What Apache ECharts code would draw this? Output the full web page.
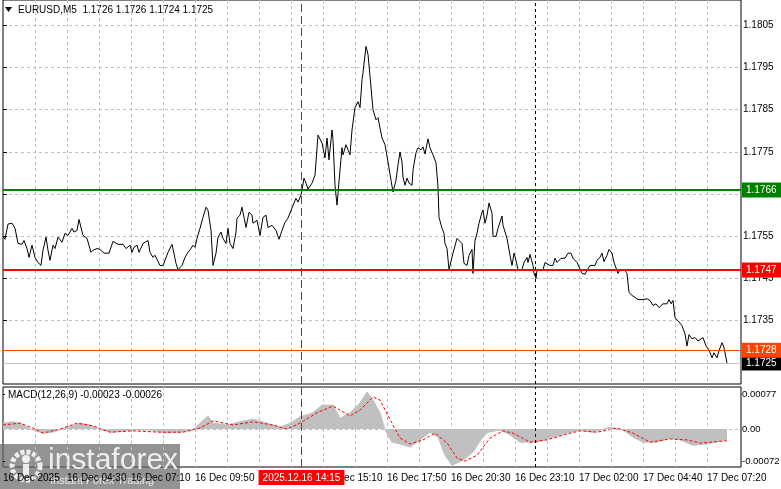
<!DOCTYPE html>
<html><head><meta charset="utf-8">
<script src="https://cdn.jsdelivr.net/npm/echarts@6/dist/echarts.min.js"></script>
<style>html,body{margin:0;padding:0;background:#fff}#c{width:781px;height:489px}</style>
</head><body><div id="c"></div>
<script>
// ---- data (x = bar index on the M5 chart, 0 = first visible bar) ----
const symbolTitle = 'EURUSD,M5  1.1726 1.1726 1.1724 1.1725';
const macdTitle = 'MACD(12,26,9) -0.00023 -0.00026';

const priceBars = [0,1,2.5,4.5,6,7.5,9.5,10.5,12,13,14.5,16,17.5,19,20,21.5,22.5,23.5,25,26,27.5,29.5,31,32.5,34.5,35.5,37,38,40,42,44,45,47,48.5,50.5,53,55,57.5,60,61.5,63.5,64.5,65.5,67,68,70,71,72.5,73.5,75,76,78.5,80,82.5,84.5,85.5,86.5,87.5,89.5,91,92.5,94,95,96,97,98.5,100,101.5,102.5,104,105,106.5,107.5,109,110,111.5,112.5,113.5,115,116.5,117,118.5,119.5,120.5,121.5,
123,124.5,125,127,128.5,130,131.5,132.5,134.5,136.5,138,139.5,141,142.5,144.5,145.5,146.5,147.5,149,149.5,150.5,151.5,152.5,154.5,156,157.5,159.5,161,162,163,164.5,165,166,167,168.5,169.5,170,171.5,172.5,173.5,174.5,176,177.5,178.5,179.5,180,181.5,182.5,183.5,185,186.5,187.5,189.5,191,192.5,194,195,196.5,197.5,198.5,199.5,200,201,202,203,204.5,205,206.5,207.5,209,210,211,212.5,213.5,215,216.5,217.5,218,219.5,220.5,221,
222,223,225,227,228,229.5,230.5,232,233,234.5,235,236,237,238,239.5,240,241,242,243,244.5,245,246.5,247.5,249.5,250,251,252,253.5,254.5,255.5,256.5,257.5,259.5,260.5,262,262.5,263.5,265,265.5,266.5,267,268.5,270,271,272,273.5,275,276,277,279,281,282.5,284,285,287,288,289.5,291,292,293.5,296,297,298.5,299.5,300.5,302,303,304.5,305.5,307,307.5,308.5,311,312,313,314.5,316,317.5,320,322,323.5,325,326.5,328,330,332,333,334,335,336,337.5,339.5,341,342,343,344.5,346,347.5,350,351.5,353,354.5,355.5,357,358,359.5,360.5,361.5,362];

const priceValues = [1.17550,1.17543,1.17579,1.17581,1.17569,1.17533,1.17531,1.17540,1.17521,1.17500,1.17529,1.17500,1.17488,1.17481,1.17517,1.17548,1.17517,1.17493,1.17529,1.17521,1.17548,1.17536,1.17557,1.17552,1.17569,1.17560,1.17564,1.17590,1.17552,1.17545,1.17512,1.17517,1.17521,1.17519,1.17510,1.17510,1.17538,1.17531,1.17531,1.17521,1.17529,1.17512,1.17524,1.17529,1.17512,1.17533,1.17529,1.17540,1.17512,1.17500,1.17505,1.17481,1.17481,1.17512,1.17531,1.17529,1.17486,1.17471,1.17481,1.17500,1.17512,1.17521,1.17529,1.17524,1.17545,1.17569,1.17595,1.17619,1.17612,1.17564,1.17481,1.17510,1.17548,1.17560,1.17545,1.17533,1.17569,1.17533,1.17521,1.17560,1.17593,1.17600,1.17619,1.17595,1.17571,
1.17607,1.17600,1.17581,1.17588,1.17552,1.17595,1.17600,1.17571,1.17576,1.17564,1.17543,1.17564,1.17583,1.17593,1.17617,1.17629,1.17640,1.17631,1.17648,1.17660,1.17688,1.17676,1.17662,1.17676,1.17695,1.17790,1.17771,1.17736,1.17783,1.17731,1.17802,1.17779,1.17671,1.17624,1.17707,1.17760,1.17743,1.17767,1.17755,1.17743,1.17802,1.17855,1.17869,1.17855,1.17921,1.17938,1.18000,1.17981,1.17929,1.17850,1.17826,1.17831,1.17783,1.17767,1.17726,1.17683,1.17655,1.17683,1.17719,1.17750,1.17726,1.17690,1.17671,1.17688,1.17676,1.17671,1.17707,1.17748,1.17760,1.17755,1.17762,1.17745,1.17781,1.17760,1.17743,1.17724,1.17667,1.17595,1.17569,1.17557,1.17533,
1.17521,1.17471,1.17510,1.17545,1.17548,1.17533,1.17486,1.17481,1.17505,1.17519,1.17462,1.17540,1.17557,1.17581,1.17607,1.17612,1.17581,1.17600,1.17629,1.17605,1.17550,1.17550,1.17569,1.17598,1.17576,1.17576,1.17545,1.17505,1.17481,1.17510,1.17493,1.17471,1.17471,1.17488,1.17500,1.17488,1.17507,1.17481,1.17462,1.17450,1.17469,1.17469,1.17471,1.17488,1.17486,1.17481,1.17481,1.17498,1.17488,1.17498,1.17498,1.17510,1.17510,1.17498,1.17488,1.17488,1.17462,1.17460,1.17469,1.17481,1.17481,1.17493,1.17500,1.17510,1.17490,1.17505,1.17519,1.17510,1.17488,1.17469,1.17462,1.17471,1.17469,1.17462,1.17417,1.17410,1.17405,1.17400,1.17400,1.17402,1.17398,1.17386,1.17390,1.17381,1.17390,1.17390,1.17400,1.17390,1.17398,1.17357,1.17350,1.17338,1.17319,1.17290,1.17317,1.17307,1.17310,1.17302,1.17310,1.17290,1.17281,1.17262,1.17274,1.17262,1.17279,1.17298,1.17286,1.17262,1.17250];

const macdBars = [0,5,8.5,12,15,20,25,32,38.5,43.5,48.5,55,65,73.5,82,88.5,95,98.5,102.5,105,112,118.5,125,132,138.5,143.5,148.5,155,159.5,165,168.5,173.5,178.5,182,185,188.5,191,194.5,198.5,203.5,208.5,213.5,217.5,221,224.5,230,235,239.5,242.5,248.5,253.5,258.5,267,275,283.5,288.5,295,303.5,310,315,320,327,333.5,338.5,345,352,362];
const macdValues = [0.00013,0.00016,0.00013,0.00004,-0.00002,-0.00009,-0.00007,0.00004,0.00013,0.00009,-0.00002,-0.00007,-0.00002,-0.00002,-0.00009,-0.00007,-0.00002,0.00013,0.00029,0.00013,0.00009,0.00016,0.00022,0.00013,0.00004,0.00013,0.00027,0.00036,0.00053,0.00053,0.00024,0.00036,0.00058,0.00082,0.00064,0.00036,-0.00002,-0.00029,-0.00033,-0.00040,-0.00024,-0.00007,-0.00018,-0.00058,-0.00080,-0.00069,-0.00051,-0.00020,-0.00007,-0.00002,-0.00013,-0.00029,-0.00029,-0.00018,-0.00007,-0.00002,-0.00007,0.00004,-0.00002,-0.00018,-0.00029,-0.00029,-0.00020,-0.00024,-0.00036,-0.00033,-0.00023];

const signalBars = [0,8.5,15,20,28.5,37,45,53.5,65,78.5,90,98.5,105,115,125,135,142,148.5,157,165,173.5,178.5,185,188.5,194.5,198.5,203.5,210,216,222,227,231,237,243.5,250,255,263.5,272,282,288.5,297,307,315,323.5,333.5,342,348.5,362];
const signalValues = [0.00009,0.00013,0.00002,-0.00009,0.00000,0.00013,0.00007,-0.00007,-0.00004,-0.00007,-0.00007,0.00002,0.00018,0.00009,0.00016,0.00009,0.00000,0.00013,0.00036,0.00051,0.00029,0.00042,0.00071,0.00064,0.00013,-0.00020,-0.00033,-0.00024,-0.00009,-0.00031,-0.00064,-0.00071,-0.00058,-0.00020,-0.00004,-0.00009,-0.00029,-0.00024,-0.00011,-0.00004,-0.00007,0.00002,-0.00009,-0.00029,-0.00022,-0.00024,-0.00031,-0.00026];

const timeTickBars = [0,32,64,96,128,160,192,224,256,288,320,352];
const timeTickLabels = ['16 Dec 2025','16 Dec 04:30','16 Dec 07:10','16 Dec 09:50','16 Dec 12:30','16 Dec 15:10','16 Dec 17:50','16 Dec 20:30','16 Dec 23:10','17 Dec 02:00','17 Dec 04:40','17 Dec 07:20'];
const priceTicks = [1.1725,1.1735,1.1745,1.1755,1.1765,1.1775,1.1785,1.1795,1.1805];
const macdTicks = [0.00077,0,-0.00072];

const levelGreen = 1.1766, levelRed = 1.1747, levelOrange = 1.1728, levelBid = 1.1725;
const markerBar = 149.25, markerLabel = '2025.12.16 14:15';
const daySeparatorBar = 266.25;

// ---- chart ----
const FONT = '"Liberation Sans",Arial,sans-serif';
const gridBars = [];
for (let b = 16; b <= 352; b += 16) gridBars.push(b);
const dash = {color:'#c0c0c0', type:[3,3], width:1};

function tag(value, bg, lineColor, width) {
  return {
    yAxis: value,
    lineStyle: {color: lineColor, width: width, type: 'solid'},
    label: {show: true, position: 'end', formatter: value.toFixed(4), color: '#fff',
            backgroundColor: bg, padding: [3,5,2,4], distance: 1,
            fontSize: 10, fontFamily: FONT}
  };
}
function vline(xAxis, yAxis, bar, color, dashArr, label) {
  return {type: 'line', xAxisIndex: xAxis, yAxisIndex: yAxis, data: [], color: color, silent: true, z: 4,
    markLine: {symbol: ['none','none'], silent: true, animation: false, precision: 6,
      lineStyle: {color: color, type: dashArr, width: 1},
      label: label ? {show: true, position: 'start', formatter: label, color: '#fff',
                      backgroundColor: color, padding: [3,4,2,4], distance: 3,
                      fontSize: 10, fontFamily: FONT} : {show: false},
      data: [{xAxis: bar}]}};
}

const chart = echarts.init(document.getElementById('c'), null, {renderer: 'canvas'});
chart.setOption({
  animation: false,
  backgroundColor: '#fff',
  grid: [
    {left: 3, top: 0, width: 738, height: 384, show: true, borderColor: '#000', borderWidth: 1, outerBoundsMode: 'none', containLabel: false},
    {left: 3, top: 387, width: 738, height: 80, show: true, borderColor: '#000', borderWidth: 1, outerBoundsMode: 'none', containLabel: false}
  ],
  xAxis: [
    {gridIndex: 0, type: 'value', min: 0, max: 369,
     axisLine: {show: false}, axisTick: {show: false, customValues: gridBars},
     axisLabel: {show: false}, splitLine: {show: true, lineStyle: dash}},
    {gridIndex: 1, type: 'value', min: 0, max: 369,
     axisLine: {show: false}, axisTick: {show: false, customValues: gridBars},
     axisLabel: {show: true, customValues: timeTickBars, align: 'left', margin: 6,
                 color: '#000', fontSize: 10, fontFamily: FONT,
                 formatter: v => timeTickLabels[timeTickBars.indexOf(Math.round(v))] || ''},
     splitLine: {show: true, lineStyle: dash}}
  ],
  yAxis: [
    {gridIndex: 0, type: 'value', position: 'right', min: 1.1720, max: 1.1811,
     axisLine: {show: false},
     axisTick: {show: true, customValues: priceTicks, length: 4, lineStyle: {color: '#000'}},
     axisLabel: {customValues: priceTicks, formatter: v => v.toFixed(4), margin: 2,
                 color: '#000', fontSize: 10, fontFamily: FONT},
     splitLine: {show: true, lineStyle: dash}},
    {gridIndex: 1, type: 'value', position: 'right', min: -0.00084, max: 0.00093,
     axisLine: {show: false},
     axisTick: {show: true, customValues: macdTicks, length: 2, lineStyle: {color: '#000'}},
     axisLabel: {customValues: macdTicks, formatter: v => (Math.abs(v) < 1e-9 ? '0.00' : v.toFixed(5)),
                 margin: 1, color: '#000', fontSize: 9.5, fontFamily: FONT},
     splitLine: {show: false}}
  ],
  series: [
    {type: 'line', xAxisIndex: 1, yAxisIndex: 1, showSymbol: false, silent: true,
     data: macdBars.map((b, i) => [b, macdValues[i]]),
     lineStyle: {color: '#c0c0c0', width: 1}, areaStyle: {color: '#c0c0c0', opacity: 1},
     markLine: {symbol: ['none','none'], silent: true, animation: false, precision: 6,
       data: [{yAxis: 0, lineStyle: {color: '#c0c0c0', type: [3,3], width: 1}, label: {show: false}}]}},
    {type: 'line', xAxisIndex: 1, yAxisIndex: 1, showSymbol: false, silent: true,
     data: signalBars.map((b, i) => [b, signalValues[i]]),
     lineStyle: {color: '#ff0000', width: 1, type: [3,2]}},
    {type: 'line', xAxisIndex: 0, yAxisIndex: 0, showSymbol: false, silent: true, z: 3,
     data: priceBars.map((b, i) => [b, priceValues[i]]),
     lineStyle: {color: '#000', width: 1},
     markLine: {symbol: ['none','none'], silent: true, animation: false, precision: 6,
       data: [
         tag(levelBid, '#000000', '#c0c0c0', 1),
         tag(levelOrange, '#ff4500', '#ff4500', 1),
         tag(levelRed, '#ff0000', '#ff0000', 2),
         tag(levelGreen, '#008000', '#008000', 2)
       ]}},
    vline(0, 0, markerBar, '#ff0000', [8,4], null),
    vline(0, 0, daySeparatorBar, '#000000', [3,3], null),
    vline(1, 1, markerBar, '#ff0000', [8,4], markerLabel),
    vline(1, 1, daySeparatorBar, '#000000', [3,3], null)
  ],
  graphic: [
    {type: 'polygon', shape: {points: [[5,7],[12,7],[8.5,12]]}, style: {fill: '#000'}},
    {type: 'text', left: 18, top: 5, style: {text: symbolTitle, fill: '#000', font: '10px ' + FONT}},
    {type: 'text', left: 8, top: 390, style: {text: macdTitle, fill: '#000', font: '10px ' + FONT}},
    {type: 'group', left: 0, top: 444, z: 100, children: [
      {type: 'rect', shape: {x: 0, y: 0, width: 180, height: 45}, style: {fill: 'rgba(105,105,105,0.72)'}},
      {type: 'circle', shape: {cx: 26, cy: 22, r: 14}, style: {fill: 'none', stroke: 'rgba(255,255,255,0.85)', lineWidth: 5, lineDash: [4,2]}},
      {type: 'circle', shape: {cx: 26, cy: 15, r: 4}, style: {fill: 'rgba(255,255,255,0.85)'}},
      {type: 'rect', shape: {x: 23, y: 20, width: 6, height: 12}, style: {fill: 'rgba(255,255,255,0.85)'}},
      {type: 'text', x: 48, y: 2, style: {text: 'instaforex', fill: 'rgba(255,255,255,0.85)', font: '30px "Liberation Sans",sans-serif'}},
      {type: 'text', x: 50, y: 31, style: {text: 'Instant Forex Trading', fill: 'rgba(255,255,255,0.8)', font: '11px "Liberation Sans",sans-serif'}}
    ]}
  ]
});
</script>
</body></html>
